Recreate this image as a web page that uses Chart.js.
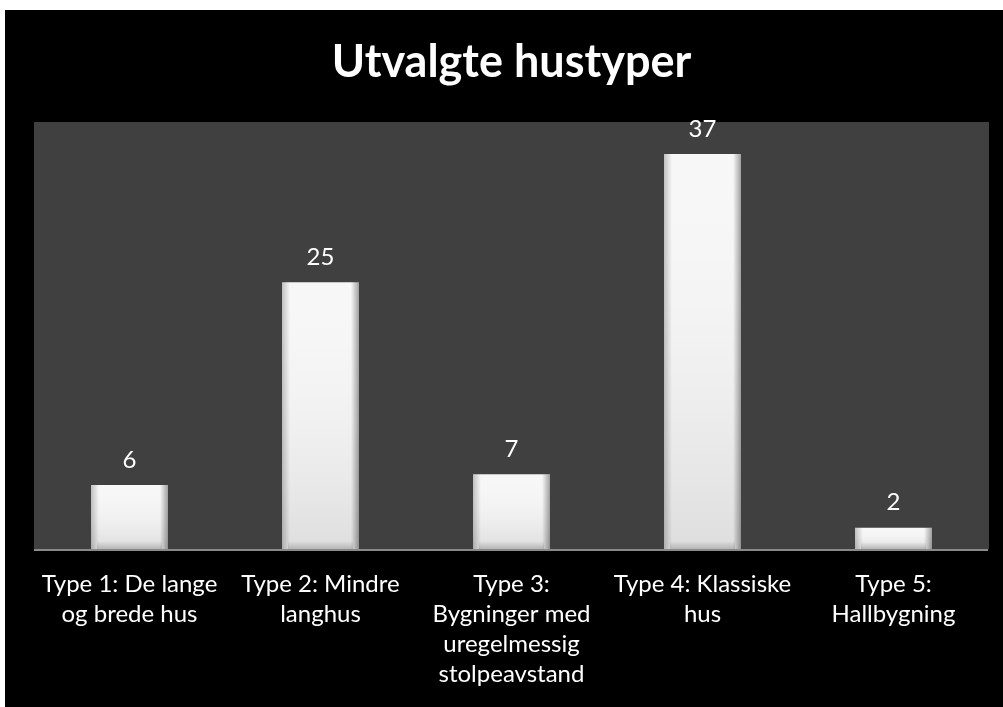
<!DOCTYPE html>
<html>
<head>
<meta charset="utf-8">
<script src="https://cdn.jsdelivr.net/npm/chart.js@4"></script>
<style>
  html, body { margin: 0; background: #fff; }
  #wrap { position: absolute; left: 5px; top: 10px; width: 998px; height: 697px; background: #000; }
</style>
</head>
<body>
<div id="wrap"><canvas id="chart" width="998" height="697"></canvas></div>
<script>
/* ========= DATA ========= */
const categories = [
  ["Type 1: De lange", "og brede hus"],
  ["Type 2: Mindre", "langhus"],
  ["Type 3:", "Bygninger med", "uregelmessig", "stolpeavstand"],
  ["Type 4: Klassiske", "hus"],
  ["Type 5:", "Hallbygning"]
];
const counts = [6, 25, 7, 37, 2];
const titleText = "Utvalgte hustyper";

const FONT = "Lato, 'Open Sans', sans-serif";

/* ========= PLUGINS ========= */
const backdrop = {
  id: "backdrop",
  beforeDraw(chart) {
    const { ctx, chartArea: a } = chart;
    ctx.save();
    ctx.fillStyle = "#000";
    ctx.fillRect(0, 0, chart.width, chart.height);
    ctx.fillStyle = "#404040";
    ctx.fillRect(a.left, a.top, a.right - a.left, a.bottom - a.top);
    // base line
    ctx.strokeStyle = "#8a8a8a";
    ctx.lineWidth = 2;
    ctx.beginPath();
    ctx.moveTo(a.left, a.bottom + 1);
    ctx.lineTo(a.right - 1, a.bottom + 1);
    ctx.stroke();
    ctx.restore();
  }
};

// bevel shading + value labels
const barDecor = {
  id: "barDecor",
  afterDatasetsDraw(chart) {
    const ctx = chart.ctx;
    const meta = chart.getDatasetMeta(0);
    ctx.save();
    meta.data.forEach((bar, i) => {
      const w = bar.width, x0 = bar.x - w / 2, x1 = bar.x + w / 2;
      const top = bar.y, bot = bar.base, h = bot - top;

      let g = ctx.createLinearGradient(0, top, 0, bot);
      g.addColorStop(0, "rgba(255,255,255,0)");
      g.addColorStop(1, "rgba(0,0,0,0.10)");
      ctx.fillStyle = g;
      ctx.fillRect(x0, top, w, h);

      g = ctx.createLinearGradient(x0, 0, x0 + 8, 0);
      g.addColorStop(0, "rgba(0,0,0,0.22)");
      g.addColorStop(1, "rgba(0,0,0,0)");
      ctx.fillStyle = g;
      ctx.fillRect(x0, top, 8, h);

      g = ctx.createLinearGradient(x1 - 8, 0, x1, 0);
      g.addColorStop(0, "rgba(0,0,0,0)");
      g.addColorStop(1, "rgba(0,0,0,0.35)");
      ctx.fillStyle = g;
      ctx.fillRect(x1 - 8, top, 8, h);

      const bh = Math.min(8, h / 3);
      g = ctx.createLinearGradient(0, bot - bh, 0, bot);
      g.addColorStop(0, "rgba(0,0,0,0)");
      g.addColorStop(1, "rgba(0,0,0,0.18)");
      ctx.fillStyle = g;
      ctx.fillRect(x0 + 6, bot - bh, w - 12, bh);

      ctx.fillStyle = "#fff";
      ctx.font = "24px " + FONT;
      ctx.textAlign = "center";
      ctx.textBaseline = "middle";
      ctx.fillText(String(counts[i]), bar.x, top - 25);
    });
    ctx.restore();
  }
};

/* ========= CHART ========= */
new Chart(document.getElementById("chart"), {
  type: "bar",
  data: {
    labels: categories,
    datasets: [{
      data: counts,
      backgroundColor: "#f7f7f7",
      borderWidth: 0,
      categoryPercentage: 1,
      barPercentage: 0.403
    }]
  },
  options: {
    responsive: false,
    animation: false,
    layout: { padding: { left: 29, right: 14, top: 0, bottom: 0 } },
    plugins: {
      legend: { display: false },
      tooltip: { enabled: false },
      title: {
        display: true,
        text: titleText,
        color: "#fff",
        font: { family: FONT, size: 45, weight: "bold", lineHeight: 1.2 },
        padding: { top: 25, bottom: 33 }
      }
    },
    scales: {
      x: {
        grid: { display: false, drawTicks: false },
        border: { display: false },
        ticks: {
          color: "#fff",
          font: { family: FONT, size: 24, lineHeight: 1.25 },
          maxRotation: 0,
          autoSkip: false,
          padding: 20
        },
        afterFit(s) { s.height = 158; }
      },
      y: {
        display: false,
        min: 0,
        max: 40
      }
    }
  },
  plugins: [backdrop, barDecor]
});
</script>
</body>
</html>
